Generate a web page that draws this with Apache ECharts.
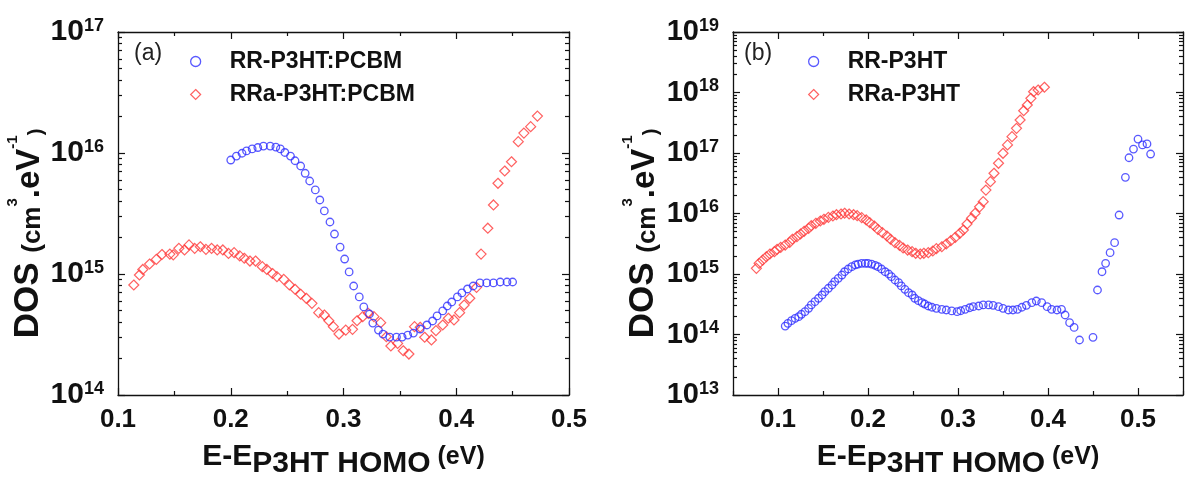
<!DOCTYPE html>
<html>
<head>
<meta charset="utf-8">
<script src="https://cdn.jsdelivr.net/npm/echarts@6/dist/echarts.min.js"></script>
<style>
  html, body { margin: 0; padding: 0; background: #fff; }
  #chart { width: 1188px; height: 477px; }
</style>
</head>
<body>
<div id="chart"></div>
<script>
// ---- (a) blends with PCBM: [E - E_HOMO (eV), DOS (cm^-3 eV^-1)] ----
const blendRR = [
  [0.200,8.75e15],[0.205,9.44e15],[0.210,9.95e15],[0.214,1.04e16],[0.219,1.08e16],[0.224,1.11e16],
  [0.229,1.14e16],[0.235,1.14e16],[0.240,1.12e16],[0.244,1.08e16],[0.248,1.01e16],[0.253,9.44e15],
  [0.257,8.63e15],[0.262,7.81e15],[0.266,6.80e15],[0.270,5.87e15],[0.275,4.95e15],[0.279,4.09e15],
  [0.283,3.32e15],[0.288,2.69e15],[0.292,2.14e15],[0.297,1.67e15],[0.301,1.33e15],[0.305,1.04e15],
  [0.309,7.96e14],[0.314,6.46e14],[0.318,5.34e14],[0.323,4.67e14],[0.326,3.93e14],[0.331,3.44e14],
  [0.335,3.19e14],[0.341,3.01e14],[0.347,3.01e14],[0.352,3.01e14],[0.357,3.13e14],[0.362,3.25e14],
  [0.368,3.51e14],[0.374,3.79e14],[0.379,4.09e14],[0.383,4.50e14],[0.388,4.95e14],[0.392,5.44e14],
  [0.396,5.87e14],[0.401,6.46e14],[0.405,6.97e14],[0.410,7.52e14],[0.415,7.96e14],[0.421,8.43e14],
  [0.427,8.43e14],[0.433,8.43e14],[0.439,8.59e14],[0.445,8.59e14],[0.450,8.59e14]
];
const blendRRa = [
  [0.114,8.11e14],[0.119,9.82e14],[0.122,1.09e15],[0.128,1.21e15],[0.134,1.32e15],[0.139,1.45e15],
  [0.146,1.46e15],[0.149,1.44e15],[0.154,1.63e15],[0.159,1.58e15],[0.163,1.74e15],[0.168,1.63e15],
  [0.173,1.68e15],[0.178,1.60e15],[0.183,1.63e15],[0.188,1.58e15],[0.193,1.58e15],[0.198,1.48e15],
  [0.203,1.50e15],[0.208,1.41e15],[0.212,1.35e15],[0.217,1.28e15],[0.222,1.28e15],[0.228,1.15e15],
  [0.232,1.09e15],[0.237,1.01e15],[0.241,9.51e14],[0.247,9.04e14],[0.252,8.11e14],[0.257,7.48e14],
  [0.262,6.80e14],[0.267,6.30e14],[0.272,5.72e14],[0.278,4.79e14],[0.283,4.58e14],[0.287,4.11e14],
  [0.291,3.67e14],[0.296,3.19e14],[0.302,3.44e14],[0.308,3.49e14],[0.312,4.11e14],[0.317,4.44e14],
  [0.322,4.73e14],[0.327,4.44e14],[0.333,3.96e14],[0.338,3.03e14],[0.342,2.54e14],[0.348,2.67e14],
  [0.353,2.32e14],[0.358,2.18e14],[0.363,3.67e14],[0.368,3.63e14],[0.372,3.00e14],[0.378,2.85e14],
  [0.382,3.40e14],[0.388,3.79e14],[0.393,4.31e14],[0.398,4.17e14],[0.403,4.79e14],[0.407,5.54e14],
  [0.412,6.30e14],[0.418,7.76e14],[0.422,1.46e15],[0.428,2.39e15],[0.433,3.72e15],[0.437,5.62e15],
  [0.443,7.10e15],[0.449,8.47e15],[0.455,1.24e16],[0.460,1.46e16],[0.466,1.65e16],[0.472,2.02e16]
];

// ---- (b) pristine polymers ----
const pristineRR = [
  [0.108,1.38e14],[0.111,1.53e14],[0.115,1.69e14],[0.119,1.85e14],[0.123,1.97e14],[0.126,2.16e14],
  [0.130,2.38e14],[0.134,2.71e14],[0.137,3.08e14],[0.141,3.49e14],[0.145,3.97e14],[0.149,4.50e14],
  [0.152,5.10e14],[0.156,5.81e14],[0.160,6.58e14],[0.163,7.46e14],[0.167,8.49e14],[0.171,9.62e14],
  [0.174,1.09e15],[0.178,1.21e15],[0.182,1.32e15],[0.186,1.41e15],[0.189,1.46e15],[0.193,1.50e15],
  [0.197,1.50e15],[0.200,1.50e15],[0.204,1.46e15],[0.208,1.39e15],[0.211,1.32e15],[0.215,1.21e15],
  [0.219,1.09e15],[0.223,1.00e15],[0.226,9.02e14],[0.230,7.96e14],[0.234,7.18e14],[0.237,6.34e14],
  [0.241,5.59e14],[0.245,4.91e14],[0.249,4.50e14],[0.252,3.97e14],[0.256,3.62e14],[0.260,3.36e14],
  [0.263,3.19e14],[0.267,2.96e14],[0.271,2.82e14],[0.276,2.71e14],[0.282,2.61e14],[0.287,2.54e14],
  [0.293,2.45e14],[0.299,2.38e14],[0.303,2.47e14],[0.308,2.61e14],[0.313,2.77e14],[0.317,2.88e14],
  [0.323,2.96e14],[0.328,3.08e14],[0.334,3.08e14],[0.339,3.04e14],[0.345,2.88e14],[0.350,2.71e14],
  [0.356,2.54e14],[0.361,2.54e14],[0.366,2.61e14],[0.371,2.82e14],[0.376,3.04e14],[0.382,3.36e14],
  [0.387,3.58e14],[0.393,3.36e14],[0.399,2.88e14],[0.404,2.61e14],[0.410,2.54e14],[0.415,2.61e14],
  [0.419,2.10e14],[0.424,1.57e14],[0.429,1.31e14],[0.435,8.11e13],[0.450,8.99e13],[0.455,5.44e14],
  [0.460,1.09e15],[0.464,1.50e15],[0.469,2.25e15],[0.474,3.29e15],[0.479,9.44e15],[0.486,3.96e16],
  [0.490,8.35e16],[0.495,1.16e17],[0.500,1.70e17],[0.505,1.36e17],[0.510,1.41e17],[0.514,9.62e16]
];
const pristineRRa = [
  [0.076,1.24e15],[0.079,1.50e15],[0.083,1.70e15],[0.087,1.93e15],[0.091,2.14e15],[0.096,2.34e15],
  [0.099,2.56e15],[0.103,2.76e15],[0.108,3.01e15],[0.113,3.34e15],[0.116,3.75e15],[0.121,4.14e15],
  [0.125,4.58e15],[0.129,5.08e15],[0.134,5.69e15],[0.137,6.28e15],[0.142,6.89e15],[0.147,7.52e15],
  [0.151,8.02e15],[0.156,8.65e15],[0.161,9.09e15],[0.165,9.55e15],[0.170,9.82e15],[0.174,1.01e16],
  [0.179,9.82e15],[0.184,9.55e15],[0.188,9.20e15],[0.193,8.53e15],[0.198,7.82e15],[0.202,7.05e15],
  [0.207,6.21e15],[0.211,5.48e15],[0.216,4.82e15],[0.221,4.25e15],[0.225,3.75e15],[0.230,3.29e15],
  [0.235,2.98e15],[0.239,2.69e15],[0.244,2.49e15],[0.249,2.34e15],[0.253,2.20e15],[0.258,2.14e15],
  [0.262,2.20e15],[0.267,2.25e15],[0.272,2.40e15],[0.276,2.62e15],[0.282,2.82e15],[0.287,3.13e15],
  [0.292,3.55e15],[0.297,4.04e15],[0.302,4.71e15],[0.306,5.34e15],[0.310,6.70e15],[0.315,8.34e15],
  [0.319,1.01e16],[0.324,1.29e16],[0.328,1.57e16],[0.331,2.44e16],[0.336,3.36e16],[0.340,4.62e16],
  [0.345,6.76e16],[0.350,9.89e16],[0.355,1.36e17],[0.360,1.86e17],[0.365,2.56e17],[0.369,3.51e17],
  [0.373,5.00e17],[0.377,6.21e17],[0.381,8.01e17],[0.384,1.03e18],[0.389,1.10e18],[0.396,1.22e18]
];

// ---- axis ranges and tick values ----
const xRangeA = [0.1, 0.5];
const xRangeB = [0.05, 0.55];
const xMajor = [0.1, 0.2, 0.3, 0.4, 0.5];
const xMinor = [0.05, 0.15, 0.25, 0.35, 0.45, 0.55];
const decadesA = [14, 15, 16, 17];
const decadesB = [13, 14, 15, 16, 17, 18, 19];

const namesA = ['RR-P3HT:PCBM', 'RRa-P3HT:PCBM'];
const namesB = ['RR-P3HT', 'RRa-P3HT'];

const FONT = "'Liberation Sans', Arial, Helvetica, sans-serif";
const INK = '#111';
const BLUE = '#3030ff';
const RED = '#ff3a3a';

const pow10 = e => Math.pow(10, e);
function minorLogValues(decades) {
  const out = [];
  for (let i = 0; i < decades.length - 1; i++) {
    for (let k = 2; k <= 9; k++) out.push(k * pow10(decades[i]));
  }
  return out;
}

const axisLine = { show: true, lineStyle: { color: INK, width: 1.3 } };
const noLine = { show: false };
const noLabel = { show: false };
const tick = (len, values) => ({ show: true, inside: true, length: len, customValues: values,
  lineStyle: { color: INK, width: 1.2 } });

// "E-E" with the "P3HT HOMO" part set lower, then "(eV)"
const xTitle = '{a|E-E}{b|P3HT HOMO}{c| (eV)}';
const xTitleStyle = {
  rich: {
    a: { fontFamily: FONT, fontWeight: 'bold', fontSize: 30, color: INK, lineHeight: 24, verticalAlign: 'top' },
    b: { fontFamily: FONT, fontWeight: 'bold', fontSize: 30, color: INK, lineHeight: 37, verticalAlign: 'bottom' },
    c: { fontFamily: FONT, fontWeight: 'bold', fontSize: 25, color: INK, lineHeight: 24, height: 31, verticalAlign: 'top' }
  }
};
const yTitle = '{a|DOS }{p|(cm}{s|3}{e|.eV}{s|-1}{q|)}';
const yTitleStyle = {
  padding: [0, 40, 0, 0],
  rich: {
    a: { fontFamily: FONT, fontWeight: 'bold', fontSize: 35, color: INK, lineHeight: 41, verticalAlign: 'bottom' },
    p: { fontFamily: FONT, fontWeight: 'bold', fontSize: 26, color: INK, lineHeight: 26, verticalAlign: 'bottom' },
    e: { fontFamily: FONT, fontWeight: 'bold', fontSize: 33, color: INK, lineHeight: 33, verticalAlign: 'bottom' },
    s: { fontFamily: FONT, fontWeight: 'bold', fontSize: 15, color: INK, lineHeight: 15, verticalAlign: 'top' },
    q: { fontFamily: FONT, fontWeight: 'bold', fontSize: 20, color: INK, lineHeight: 20, verticalAlign: 'bottom' }
  }
};

function xAxesFor(grid, range) {
  const base = { type: 'value', gridIndex: grid, min: range[0], max: range[1], splitLine: { show: false } };
  return [
    Object.assign({}, base, {
      position: 'bottom', axisLine, axisTick: tick(7, xMajor),
      axisLabel: { show: true, customValues: xMajor, margin: 12, formatter: v => v.toFixed(1),
        fontFamily: FONT, fontWeight: 'bold', fontSize: 26, color: INK },
      name: xTitle, nameLocation: 'middle', nameGap: 47, nameTextStyle: xTitleStyle
    }),
    Object.assign({}, base, { position: 'bottom', axisLine: noLine, axisTick: tick(4, xMinor), axisLabel: noLabel }),
    Object.assign({}, base, { position: 'top', axisLine, axisTick: tick(7, xMajor), axisLabel: noLabel }),
    Object.assign({}, base, { position: 'top', axisLine: noLine, axisTick: tick(4, xMinor), axisLabel: noLabel })
  ];
}

function yAxesFor(grid, decades, labelSize, supSize) {
  const majors = decades.map(pow10);
  const minors = minorLogValues(decades);
  const base = { type: 'log', logBase: 10, gridIndex: grid, min: majors[0], max: majors[majors.length - 1],
    splitLine: { show: false } };
  return [
    Object.assign({}, base, {
      position: 'left', axisLine, axisTick: tick(7, majors),
      axisLabel: {
        show: true, customValues: majors, margin: 14,
        formatter: v => '{b|10}{s|' + Math.round(Math.log10(v)) + '}',
        rich: {
          b: { fontFamily: FONT, fontWeight: 'bold', fontSize: labelSize, color: INK, lineHeight: 30, verticalAlign: 'middle' },
          s: { fontFamily: FONT, fontWeight: 'bold', fontSize: supSize, color: INK, lineHeight: 8, verticalAlign: 'top' }
        }
      },
      name: yTitle, nameLocation: 'middle', nameRotate: 90, nameGap: 72, nameTextStyle: yTitleStyle
    }),
    Object.assign({}, base, { position: 'left', axisLine: noLine, axisTick: tick(4, minors), axisLabel: noLabel }),
    Object.assign({}, base, { position: 'right', axisLine, axisTick: tick(7, majors), axisLabel: noLabel }),
    Object.assign({}, base, { position: 'right', axisLine: noLine, axisTick: tick(4, minors), axisLabel: noLabel })
  ];
}

const circleStyle = { color: 'transparent', borderColor: BLUE, borderWidth: 1.3 };
const diamondStyle = { color: 'transparent', borderColor: RED, borderWidth: 1.2 };

function scatter(name, data, xi, yi, isCircle) {
  return {
    name, type: 'scatter', data, xAxisIndex: xi, yAxisIndex: yi,
    symbol: isCircle ? 'circle' : 'diamond',
    symbolSize: isCircle ? 7.5 : [10, 10],
    itemStyle: isCircle ? circleStyle : diamondStyle,
    emphasis: { disabled: true }, animation: false
  };
}

function legendFor(left, names) {
  return {
    orient: 'vertical', left, top: 50, padding: 0, itemWidth: 10, itemHeight: 10, itemGap: 10,
    selectedMode: false,
    textStyle: { fontFamily: FONT, fontWeight: 'bold', fontSize: 23, color: INK, padding: [0, 0, 0, 24] },
    data: [
      { name: names[0], icon: 'circle', itemStyle: circleStyle },
      { name: names[1], icon: 'diamond', itemStyle: diamondStyle }
    ]
  };
}

const chart = echarts.init(document.getElementById('chart'), null, { renderer: 'canvas' });
chart.setOption({
  backgroundColor: '#fff',
  animation: false,
  title: [
    { text: '(a)', left: 129, top: 37, textStyle: { fontFamily: FONT, fontWeight: 'normal', fontSize: 23, color: '#222' } },
    { text: '(b)', left: 739, top: 37, textStyle: { fontFamily: FONT, fontWeight: 'normal', fontSize: 23, color: '#222' } }
  ],
  grid: [
    { left: 118, top: 32, width: 451, height: 363, outerBoundsMode: 'none', containLabel: false },
    { left: 733, top: 32, width: 450, height: 363, outerBoundsMode: 'none', containLabel: false }
  ],
  legend: [legendFor(190, namesA), legendFor(808, namesB)],
  xAxis: xAxesFor(0, xRangeA).concat(xAxesFor(1, xRangeB)),
  yAxis: yAxesFor(0, decadesA, 30, 18).concat(yAxesFor(1, decadesB, 29, 18)),
  series: [
    scatter(namesA[1], blendRRa, 0, 0, false),
    scatter(namesA[0], blendRR, 0, 0, true),
    scatter(namesB[1], pristineRRa, 4, 4, false),
    scatter(namesB[0], pristineRR, 4, 4, true)
  ]
});
</script>
</body>
</html>
